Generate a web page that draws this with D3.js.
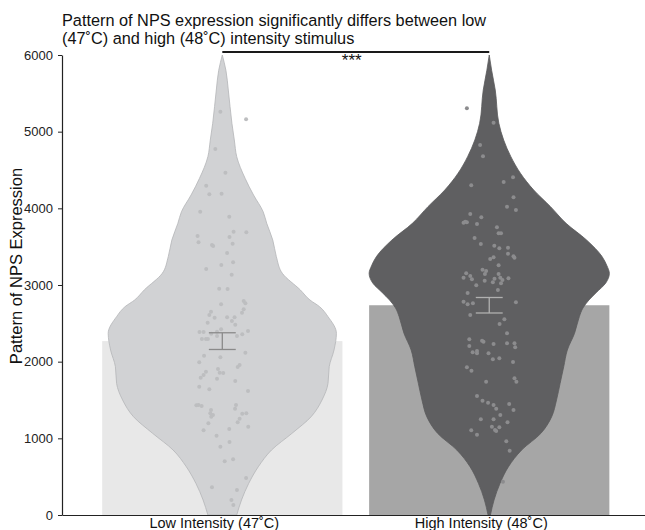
<!DOCTYPE html>
<html>
<head>
<meta charset="utf-8">
<script src="https://cdn.jsdelivr.net/npm/d3@7"></script>
<style>
  body { margin: 0; background: #fff; }
  text { font-family: "Liberation Sans", Arial, sans-serif; }
</style>
</head>
<body>
<script>
// data
const categories = ['Low Intensity (47˚C)', 'High Intensity (48˚C)'];
const means = [2268, 2736];
const sems = [109, 101];
const yTicks = [0, 1000, 2000, 3000, 4000, 5000, 6000];
const titleLines = ['Pattern of NPS expression significantly differs between low',
                    '(47˚C) and high (48˚C) intensity stimulus'];
const yLabel = 'Pattern of NPS Expression';
const sigLabel = '***';

// individual responses (value, horizontal jitter as fraction of band)
const lowValues = [5260, 5161, 4774, 4465, 4295, 4183, 4191, 3956, 3891, 3695,
  3687, 3639, 3626, 3557, 3539, 3522, 3509, 3417, 3296, 3261,
  3209, 3134, 2952, 2948, 2791, 2761, 2748, 2652, 2609, 2683,
  2639, 2574, 2579, 2579, 2530, 2482, 2508, 2422, 2387, 2387,
  2391, 2365, 2400, 2357, 2335, 2335, 2296, 2296, 2296, 2117,
  2057, 2078, 1992, 1957, 1930, 1904, 1856, 1852, 1869, 1826,
  1791, 1778, 1748, 1673, 1640, 1617, 1431, 1435, 1422, 1435,
  1387, 1370, 1327, 1304, 1327, 1321, 1282, 1256, 1209, 1196,
  1152, 1122, 1105, 1034, 952, 891, 700, 727, 483, 361,
  326, 196, 130];
const lowJitter = [-0.008, 0.099, -0.029, 0.013, -0.067, -0.054, -0.003, -0.092, 0.029, 0.047,
  0.1, -0.103, 0.03, -0.099, 0.043, -0.043, -0.038, 0.02, 0.045, -0.004,
  -0.067, 0.039, -0.013, 0.022, 0.089, 0.096, -0.005, -0.047, -0.054, 0.089,
  0.082, -0.032, 0.02, 0.051, 0.04, 0.054, -0.061, -0.005, -0.095, -0.078,
  -0.022, -0.046, 0.107, 0.083, 0.061, -0.022, -0.085, -0.068, -0.06, 0.096,
  -0.008, -0.076, -0.096, 0.072, 0.064, -0.018, -0.011, 0.004, -0.068, -0.078,
  -0.09, -0.022, 0.054, -0.096, -0.054, 0.107, -0.108, -0.099, -0.086, 0.057,
  0.053, -0.047, -0.05, -0.039, 0.1, 0.083, -0.046, 0.072, 0.064, -0.058,
  0.108, 0.029, -0.078, -0.024, 0.03, -0.008, 0.01, 0.045, 0.099, -0.043,
  0.061, 0.038, 0.046];

const highValues = [5305, 5117, 4826, 4678, 4405, 4343, 4300, 4143, 4022, 3978,
  3926, 3883, 3826, 3813, 3817, 3796, 3752, 3674, 3674, 3613,
  3535, 3513, 3478, 3487, 3409, 3374, 3357, 3361, 3339, 3257,
  3200, 3183, 3143, 3143, 3152, 3096, 3117, 3074, 3057, 3083,
  3096, 3065, 3087, 3035, 3022, 2996, 2935, 2896, 2783, 2761,
  2774, 2748, 2609, 2552, 2491, 2370, 2291, 2274, 2261, 2230,
  2239, 2239, 2187, 2204, 2122, 2139, 2109, 2109, 2043, 2031,
  1996, 1926, 1883, 1783, 1739, 1739, 1552, 1491, 1465, 1435,
  1387, 1448, 1370, 1304, 1248, 1248, 1209, 1152, 1144, 1109,
  1096, 1104, 1048, 961, 839, 435];
const highJitter = [-0.093, 0.018, -0.038, -0.026, 0.099, 0.06, -0.075, 0.101, 0.074, 0.111,
  -0.079, -0.033, -0.1, -0.107, -0.093, -0.051, 0.032, 0.039, 0.049, -0.061,
  -0.035, 0.021, 0.042, 0.078, 0.078, 0.101, 0.105, 0.018, 0.004, 0.039,
  -0.028, -0.013, -0.018, 0.039, -0.096, -0.107, -0.079, -0.072, -0.019, 0.022,
  0.046, 0.055, 0.08, 0.015, 0.049, -0.054, 0.036, -0.09, -0.107, -0.068,
  0.111, -0.09, -0.079, 0.063, 0.043, 0.074, -0.083, -0.03, -0.024, 0.018,
  0.074, 0.105, 0.108, -0.083, -0.069, -0.051, -0.051, -0.003, 0.042, 0.015,
  0.099, -0.093, -0.074, 0.105, 0.113, -0.013, -0.051, -0.028, -0.005, 0.018,
  0.029, 0.083, 0.101, 0.046, -0.035, 0.018, 0.076, 0.011, 0.042, 0.024,
  0.029, -0.075, -0.051, 0.071, 0.085, 0.057];

// violin outlines: relative density at each value
const lowViolinValues = [6000, 5800, 5543, 5109, 4891, 4674, 4391, 4174, 3956, 3804, 3587, 3369, 3152,
  2935, 2804, 2717, 2587, 2370, 2152, 1935, 1717, 1500, 1283, 1065, 848, 630, 413, 196, 0];
const lowViolinDensity = [0, 0.03, 0.05, 0.08, 0.10, 0.12, 0.19, 0.26, 0.34, 0.37, 0.42, 0.45, 0.50,
  0.65, 0.73, 0.81, 0.88, 0.95, 0.93, 0.89, 0.88, 0.83, 0.74, 0.58, 0.41, 0.30, 0.22, 0.16, 0.12];
const highViolinValues = [6000, 5800, 5543, 5109, 4891, 4674, 4457, 4239, 4022, 3804, 3587, 3369, 3250, 3152,
  3026, 2900, 2804, 2700, 2587, 2370, 2152, 1935, 1717, 1500, 1283, 1065, 848, 630, 413, 196, 0];
const highViolinDensity = [0, 0.02, 0.05, 0.08, 0.12, 0.18, 0.26, 0.37, 0.51, 0.64, 0.81, 0.94, 0.98, 1.0,
  0.97, 0.89, 0.83, 0.78, 0.75, 0.71, 0.65, 0.62, 0.59, 0.56, 0.52, 0.43, 0.27, 0.16, 0.09, 0.04, 0.01];

const groups = [
  { name: categories[0], values: lowValues, jitter: lowJitter,
    vv: lowViolinValues, vd: lowViolinDensity,
    bar: '#e8e8e8', violin: '#d1d2d4', violinStroke: '#b4b5b7', point: '#bdbec0', err: '#8a8a8a' },
  { name: categories[1], values: highValues, jitter: highJitter,
    vv: highViolinValues, vd: highViolinDensity,
    bar: '#a6a6a6', violin: '#5f5f61', violinStroke: '#5a5a5c', point: '#8c8c8e', err: '#b0b0b0' }
];

const width = 645, height = 530;
const svg = d3.select('body').append('svg')
  .attr('width', width)
  .attr('height', height);

const x = d3.scaleBand()
  .domain(categories)
  .range([62, 645])
  .paddingInner(0.1)
  .paddingOuter(0.142)
  .align(0.53);

const y = d3.scaleLinear()
  .domain([0, 6000])
  .range([515, 55]);

const bw = x.bandwidth();
const jitterScale = d3.scaleLinear().domain([-0.5, 0.5]).range([-bw / 2, bw / 2]);
const densScale = d3.scaleLinear().domain([0, 1]).range([0, bw / 2]);
const cx = name => x(name) + bw / 2;

// bars (means)
svg.selectAll('rect.bar')
  .data(groups)
  .enter()
  .append('rect')
  .attr('class', 'bar')
  .attr('x', d => x(d.name))
  .attr('y', (d, i) => y(means[i]))
  .attr('width', bw)
  .attr('height', (d, i) => y(0) - y(means[i]))
  .attr('fill', d => d.bar);

// violins
groups.forEach(g => {
  const pts = g.vv.map((v, i) => ({ v: v, d: g.vd[i] })).sort((a, b) => a.v - b.v);
  const area = d3.area()
    .curve(d3.curveMonotoneY)
    .y(p => y(p.v))
    .x0(p => cx(g.name) - densScale(p.d))
    .x1(p => cx(g.name) + densScale(p.d));
  svg.append('path')
    .datum(pts)
    .attr('d', area)
    .attr('fill', g.violin)
    .attr('stroke', g.violinStroke)
    .attr('stroke-width', 0.8);
});

// jittered points
groups.forEach(g => {
  svg.append('g')
    .selectAll('circle')
    .data(g.values)
    .enter()
    .append('circle')
    .attr('cx', (v, i) => cx(g.name) + jitterScale(g.jitter[i]))
    .attr('cy', v => y(v))
    .attr('r', 2)
    .attr('fill', g.point);
});

// error bars (mean +/- sem)
groups.forEach((g, i) => {
  const c = cx(g.name), half = bw * 0.056;
  const eb = svg.append('g').attr('stroke', g.err).attr('stroke-width', 1.3).attr('fill', 'none');
  eb.append('line').attr('x1', c).attr('x2', c)
    .attr('y1', y(means[i] - sems[i])).attr('y2', y(means[i] + sems[i]));
  eb.append('line').attr('x1', c - half).attr('x2', c + half)
    .attr('y1', y(means[i] + sems[i])).attr('y2', y(means[i] + sems[i]));
  eb.append('line').attr('x1', c - half).attr('x2', c + half)
    .attr('y1', y(means[i] - sems[i])).attr('y2', y(means[i] - sems[i]));
});

// axes
const yAxis = svg.append('g')
  .attr('transform', 'translate(62,0)')
  .call(d3.axisLeft(y).tickValues(yTicks).tickFormat(d3.format('d'))
    .tickSize(4).tickSizeOuter(0).tickPadding(5));
yAxis.select('.domain').attr('stroke', '#222').attr('stroke-width', 1.2);
yAxis.selectAll('.tick line').attr('stroke', '#222');
yAxis.selectAll('.tick text')
  .attr('font-size', '13px')
  .attr('fill', '#222')
  .style('font-family', '"Liberation Sans", Arial, sans-serif');

const xAxis = svg.append('g')
  .attr('transform', 'translate(0,515)')
  .call(d3.axisBottom(x).tickSize(0).tickSizeOuter(0).tickPadding(3));
xAxis.select('.domain').attr('stroke', '#222').attr('stroke-width', 1.2);
xAxis.selectAll('.tick text')
  .attr('font-size', '14.5px')
  .attr('fill', '#111')
  .attr('dx', -8)
  .style('font-family', '"Liberation Sans", Arial, sans-serif');

// y axis title
svg.append('text')
  .attr('transform', 'translate(21.5,266) rotate(-90)')
  .attr('text-anchor', 'middle')
  .attr('font-size', '16.5px')
  .attr('fill', '#111')
  .text(yLabel);

// chart title
svg.append('g').selectAll('text')
  .data(titleLines)
  .enter()
  .append('text')
  .attr('x', 62)
  .attr('y', (d, i) => 26 + i * 18)
  .attr('font-size', '16.3px')
  .attr('fill', '#111')
  .text(d => d);

// significance bracket
const bx1 = cx(categories[0]), bx2 = cx(categories[1]);
svg.append('line')
  .attr('x1', bx1).attr('x2', bx2)
  .attr('y1', y(6000) - 3).attr('y2', y(6000) - 3)
  .attr('stroke', '#1a1a1a')
  .attr('stroke-width', 2);
svg.append('text')
  .attr('x', (bx1 + bx2) / 2 - 4)
  .attr('y', y(6000) + 11)
  .attr('text-anchor', 'middle')
  .attr('font-size', '17px')
  .attr('fill', '#111')
  .text(sigLabel);
</script>
</body>
</html>
